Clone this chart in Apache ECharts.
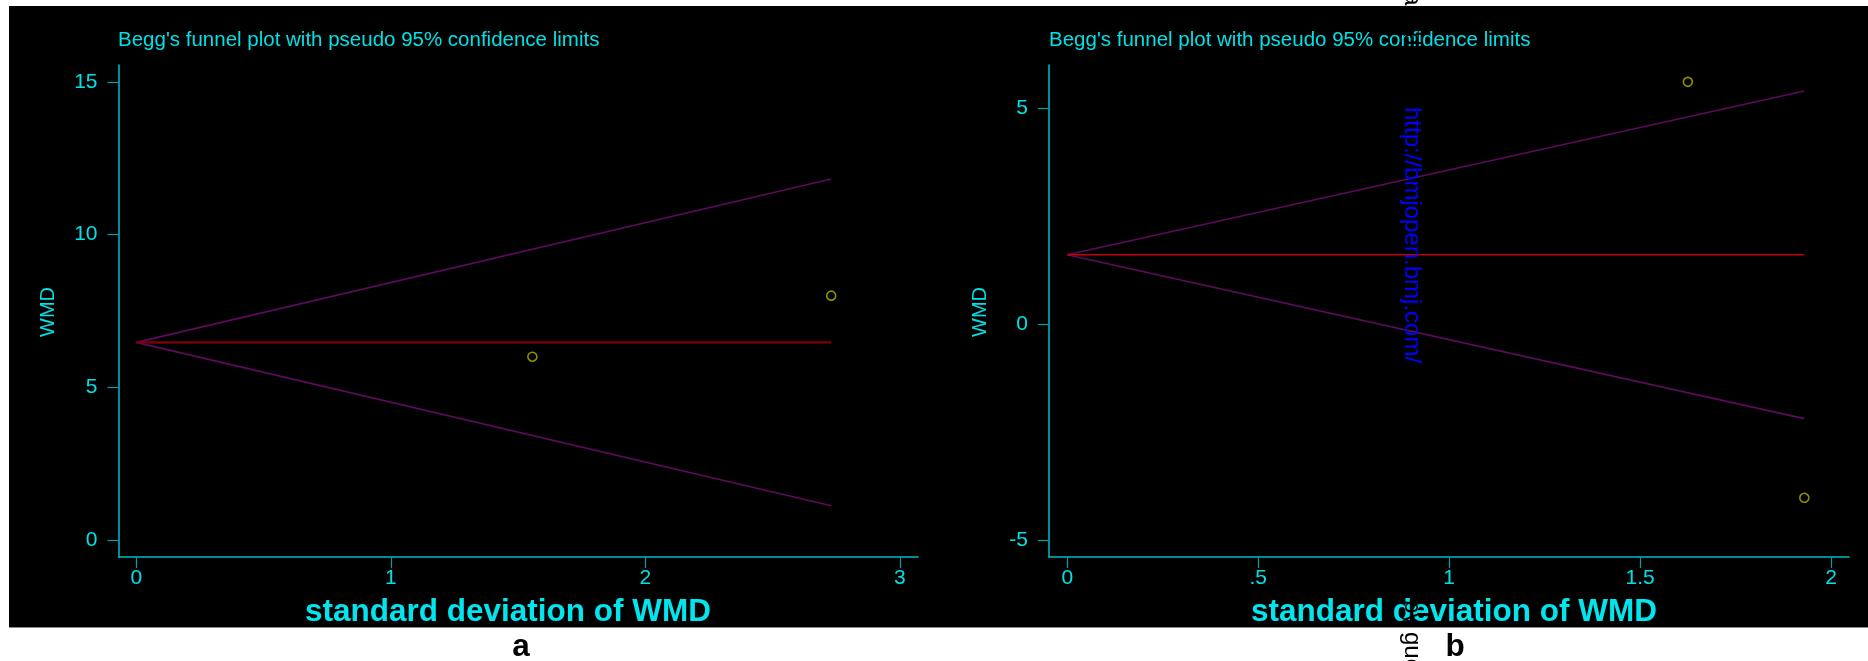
<!DOCTYPE html>
<html>
<head>
<meta charset="utf-8">
<script src="https://cdn.jsdelivr.net/npm/echarts@6/dist/echarts.min.js"></script>
<style>
  html, body { margin: 0; padding: 0; background: #ffffff; }
  #bg { position: absolute; left: 9px; top: 6px; width: 1859px; height: 621px; background: #000; border-bottom: 1px solid #8a8a8a; }
  #chart { position: absolute; left: 0; top: 0; width: 1868px; height: 661px; }
</style>
</head>
<body>
<div id="bg"></div>
<div id="chart"></div>
<script>
// ---- Panel a data ----
const titleText = "Begg's funnel plot with pseudo 95% confidence limits";
const xTitle = "standard deviation of WMD";
const yTitle = "WMD";
const seA = [1.556, 2.73];
const wmdA = [6.0, 8.0];
const lineSeA = [0, 2.73];
const pooledA = [6.47, 6.47];
const upperA = [6.47, 11.82];
const lowerA = [6.47, 1.12];
const xTicksA = [0, 1, 2, 3];
const yTicksA = [0, 5, 10, 15];

// ---- Panel b data ----
const seB = [1.625, 1.93];
const wmdB = [5.6, -4.02];
const lineSeB = [0, 1.93];
const pooledB = [1.60, 1.60];
const upperB = [1.60, 5.39];
const lowerB = [1.60, -2.19];
const xTicksB = [0, 0.5, 1, 1.5, 2];
const yTicksB = [-5, 0, 5];

const panelLabels = ['a', 'b'];

const FONT = '"Liberation Sans", Arial, sans-serif';
const cyan = '#00e1e6';
const axisColor = '#00bcc8';
const tickColor = '#00a0a8';
const funnelColor = '#5e0b5e';
const markerColor = '#b3b300';

const zip = (xs, ys) => xs.map((x, i) => [x, ys[i]]);
const fmt = v => String(v).replace(/^0\./, '.').replace(/^-0\./, '-.');

function xAxis(gi, min, max, ticks) {
  return {
    type: 'value', gridIndex: gi, min: min, max: max,
    axisLine: { show: true, onZero: false, lineStyle: { color: axisColor, width: 1.5 } },
    axisTick: { show: true, customValues: ticks, length: 11, lineStyle: { color: tickColor, width: 1.2 } },
    axisLabel: { show: true, customValues: ticks, formatter: fmt, color: cyan, fontSize: 21, margin: 11, fontFamily: FONT },
    splitLine: { show: false }
  };
}
function yAxis(gi, min, max, ticks) {
  return {
    type: 'value', gridIndex: gi, min: min, max: max,
    axisLine: { show: true, onZero: false, lineStyle: { color: axisColor, width: 1.5 } },
    axisTick: { show: true, customValues: ticks, length: 11, lineStyle: { color: tickColor, width: 1.2 } },
    axisLabel: { show: true, customValues: ticks, formatter: fmt, color: cyan, fontSize: 21, margin: 21, fontFamily: FONT },
    splitLine: { show: false }
  };
}
function lineSeries(idx, data, color, width) {
  return { type: 'line', xAxisIndex: idx, yAxisIndex: idx, data: data, symbol: 'none',
           lineStyle: { color: color, width: width }, silent: true, z: 3 };
}
function scatterSeries(idx, data) {
  return { type: 'scatter', xAxisIndex: idx, yAxisIndex: idx, data: data, symbol: 'circle', symbolSize: 9,
           itemStyle: { color: 'rgba(0,0,0,0)', borderColor: markerColor, borderWidth: 1.6 }, z: 4 };
}
function txt(x, y, text, opts) {
  return Object.assign({ type: 'text', x: x, y: y, z: 100,
    style: Object.assign({ text: text, fill: cyan, font: '20.5px ' + FONT,
      textAlign: 'left', textVerticalAlign: 'middle', align: 'left', verticalAlign: 'middle' }, opts.style || {}) },
    opts.rotation !== undefined ? { rotation: opts.rotation } : {});
}

const chart = echarts.init(document.getElementById('chart'), null, { renderer: 'canvas' });
chart.setOption({
  backgroundColor: 'transparent',
  animation: false,
  grid: [
    { left: 118.5, top: 65, width: 799.5, height: 492, containLabel: false },
    { left: 1049, top: 65, width: 800, height: 492, containLabel: false }
  ],
  xAxis: [ xAxis(0, -0.07, 3.071, xTicksA), xAxis(1, -0.048, 2.047, xTicksB) ],
  yAxis: [ yAxis(0, -0.556, 15.55, yTicksA), yAxis(1, -5.39, 5.99, yTicksB) ],
  series: [
    lineSeries(0, zip(lineSeA, upperA), funnelColor, 1.6),
    lineSeries(0, zip(lineSeA, lowerA), funnelColor, 1.6),
    lineSeries(0, zip(lineSeA, pooledA), '#800008', 2.4),
    scatterSeries(0, zip(seA, wmdA)),
    lineSeries(1, zip(lineSeB, upperB), funnelColor, 1.6),
    lineSeries(1, zip(lineSeB, lowerB), funnelColor, 1.6),
    lineSeries(1, zip(lineSeB, pooledB), '#c0000f', 1.4),
    scatterSeries(1, zip(seB, wmdB))
  ],
  graphic: [
    txt(118, 40, titleText, {}),
    txt(1049, 40, titleText, {}),
    txt(48, 312, yTitle, { rotation: Math.PI / 2, style: { font: '20px ' + FONT, textAlign: 'center', align: 'center' } }),
    txt(980, 312, yTitle, { rotation: Math.PI / 2, style: { font: '20px ' + FONT, textAlign: 'center', align: 'center' } }),
    txt(508, 612, xTitle, { style: { font: 'bold 31.5px ' + FONT, fill: '#00e5ee', textAlign: 'center', align: 'center' } }),
    txt(1454, 612, xTitle, { style: { font: 'bold 31.5px ' + FONT, fill: '#00e5ee', textAlign: 'center', align: 'center' } }),
    txt(521, 647, panelLabels[0], { style: { font: 'bold 31.5px ' + FONT, fill: '#000', textAlign: 'center', align: 'center' } }),
    txt(1455, 647, panelLabels[1], { style: { font: 'bold 31.5px ' + FONT, fill: '#000', textAlign: 'center', align: 'center' } }),
    // rotated watermark
    txt(1412, 107, 'Downloaded from ', { rotation: -Math.PI / 2, style: { font: '24px ' + FONT, fill: '#000', textAlign: 'right', align: 'right' } }),
    txt(1412, 107, 'http://bmjopen.bmj.com/', { rotation: -Math.PI / 2, style: { font: '24px ' + FONT, fill: '#0000ff' } }),
    txt(1412, 600, 'by guest', { rotation: -Math.PI / 2, style: { font: '24px ' + FONT, fill: '#000' } })
  ]
});
</script>
</body>
</html>
